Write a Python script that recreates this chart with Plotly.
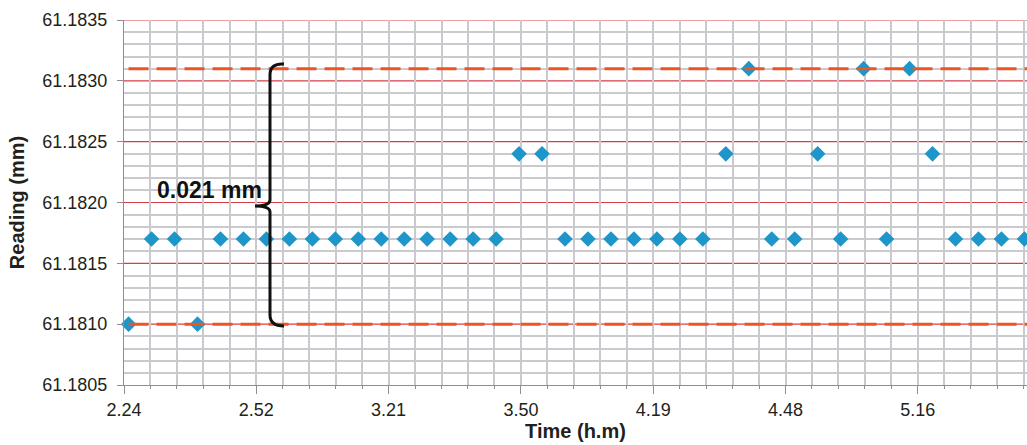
import plotly.graph_objects as go

# ---- data ----
times = ["2:25", "2:30", "2:35", "2:40", "2:45", "2:50", "2:55", "3:00", "3:05", "3:10",
         "3:15", "3:20", "3:25", "3:30", "3:35", "3:40", "3:45", "3:50", "3:55", "4:00",
         "4:05", "4:10", "4:15", "4:20", "4:25", "4:30", "4:35", "4:40", "4:45", "4:50",
         "4:55", "5:00", "5:05", "5:10", "5:15", "5:20", "5:25", "5:30", "5:35", "5:40"]
readings = [61.1810, 61.1817, 61.1817, 61.1810, 61.1817, 61.1817, 61.1817, 61.1817, 61.1817, 61.1817,
            61.1817, 61.1817, 61.1817, 61.1817, 61.1817, 61.1817, 61.1817, 61.1824, 61.1824, 61.1817,
            61.1817, 61.1817, 61.1817, 61.1817, 61.1817, 61.1817, 61.1824, 61.1831, 61.1817, 61.1817,
            61.1824, 61.1817, 61.1831, 61.1817, 61.1831, 61.1824, 61.1817, 61.1817, 61.1817, 61.1817]
y_ticks = [61.1805, 61.1810, 61.1815, 61.1820, 61.1825, 61.1830, 61.1835]
upper_limit = 61.1831
lower_limit = 61.1810
spread_label = "0.021 mm"

DAY = "2000-01-01 "
def to_dt(t):
    h, m = t.split(":")
    return f"{DAY}{int(h):02d}:{int(m):02d}:00"

x_dt = [to_dt(t) for t in times]

# ---- style ----
W, H = 1027, 445
ML, MT, MR, MB = 124, 20, 0, 60
FONT = "Liberation Sans, Arial, Helvetica, sans-serif"
RED_GRID = "#D63E46"
GRAY_GRID = "#CACACE"
AXIS_GRAY = "#8E8E92"
MARKER = "#1E96C9"
LIMIT = "#EF5425"
TXT = "#231F20"

y0, y1 = y_ticks[0], y_ticks[-1]
x_start = DAY + "02:24:00"
x_end = DAY + "05:40:34"

# minor grid positions (every 0.0001, skipping the 0.0005 major lines)
minor_y = [round(y0 + i * 0.0001, 4) for i in range(31) if i % 5 != 0]

fig = go.Figure()
fig.add_trace(go.Scatter(
    x=x_dt, y=readings, mode="markers",
    marker=dict(symbol="diamond", size=12, color=MARKER, line=dict(width=0)),
    cliponaxis=False, showlegend=False, hoverinfo="x+y"))

# red major horizontal grid lines (between grid and data)
for v in y_ticks[1:]:
    fig.add_shape(type="line", xref="paper", yref="y", x0=0, x1=1, y0=v, y1=v,
                  line=dict(color=RED_GRID, width=1.2), layer="between")

# limit lines
for v in (upper_limit, lower_limit):
    fig.add_shape(type="line", xref="paper", yref="y", x0=0.005, x1=1.0, y0=v, y1=v,
                  line=dict(color=LIMIT, width=3, dash="20px,8px"), layer="above")

# bracket (pixel-defined helper converted to paper-x / data-y)
pw = W - ML - MR
ph = H - MT - MB
def px(xp):
    return (xp - ML) / pw
def py(yp):
    return y1 - (yp - MT) / ph * (y1 - y0)

pts = [("M", 284, 64), ("Q", 270, 63, 270, 75), ("L", 270, 200), ("Q", 270, 206, 255, 206),
       ("Q", 270, 206, 270, 212), ("L", 270, 315), ("Q", 270, 326, 284, 326)]
path = ""
for p in pts:
    cmd = p[0]
    coords = p[1:]
    seg = []
    for i in range(0, len(coords), 2):
        seg.append(f"{px(coords[i]):.5f},{py(coords[i+1]):.7f}")
    path += cmd + " " + " ".join(seg) + " "
fig.add_shape(type="path", xref="paper", yref="y", path=path.strip(),
              line=dict(color="#111111", width=3), layer="above")

fig.add_annotation(xref="paper", yref="y", x=px(264), y=py(190), text=spread_label,
                   showarrow=False, xanchor="right", yanchor="middle",
                   font=dict(family=FONT, size=23, color="#111111", weight="bold"))

fig.update_layout(
    width=W, height=H,
    margin=dict(l=ML, r=MR, t=MT, b=MB, pad=0),
    paper_bgcolor="white", plot_bgcolor="white",
    font=dict(family=FONT, size=18, color=TXT),
    showlegend=False,
)

fig.update_xaxes(
    type="date", range=[x_start, x_end],
    tick0=x_start, dtick=1728000, tickformat="%-H.%M",
    showgrid=True, gridcolor=GRAY_GRID, gridwidth=1.5,
    showline=True, linecolor=AXIS_GRAY, linewidth=1,
    ticks="outside", ticklen=8, tickcolor=AXIS_GRAY, ticklabelstandoff=0,
    tickfont=dict(family=FONT, size=18, color=TXT),
    minor=dict(tick0=x_start, dtick=345600, showgrid=True, gridcolor=GRAY_GRID, gridwidth=1.5,
               ticks="outside", ticklen=3, tickcolor=AXIS_GRAY),
    zeroline=False,
    title=dict(text="Time (h.m)", standoff=5,
               font=dict(family=FONT, size=20, color=TXT, weight="bold")),
)

fig.update_yaxes(
    range=[y0, y1], tickvals=y_ticks, tickformat=".4f",
    showgrid=False,
    showline=True, linecolor=AXIS_GRAY, linewidth=1,
    ticks="outside", ticklen=6, tickcolor=AXIS_GRAY, ticklabelstandoff=6,
    tickfont=dict(family=FONT, size=18, color=TXT),
    minor=dict(tickvals=minor_y, showgrid=True, gridcolor=GRAY_GRID, gridwidth=1.5),
    zeroline=False,
    title=dict(text="Reading (mm)", standoff=12,
               font=dict(family=FONT, size=20, color=TXT, weight="bold")),
)

fig.write_html("out.html")
